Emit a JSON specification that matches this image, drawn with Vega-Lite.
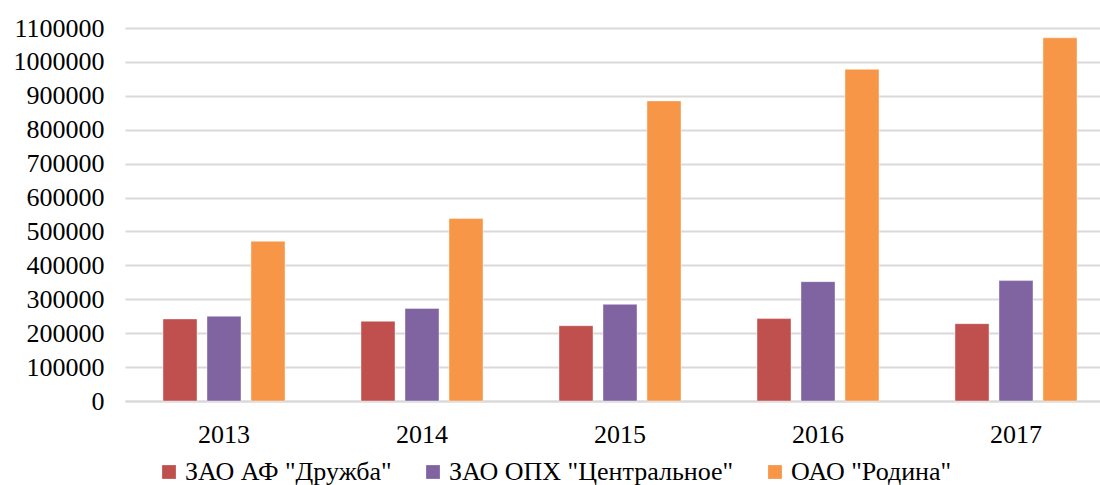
{
  "$schema": "https://vega.github.io/schema/vega-lite/v6.json",
  "autosize": "none",
  "padding": {"left": 125, "top": 28, "right": 0, "bottom": 84},
  "width": 990,
  "height": 373,
  "background": "white",
  "data": {
    "values": [
      {"year": "2013", "company": "ЗАО АФ \"Дружба\"", "value": 242000},
      {"year": "2013", "company": "ЗАО ОПХ \"Центральное\"", "value": 250000},
      {"year": "2013", "company": "ОАО \"Родина\"", "value": 471000},
      {"year": "2014", "company": "ЗАО АФ \"Дружба\"", "value": 235000},
      {"year": "2014", "company": "ЗАО ОПХ \"Центральное\"", "value": 273000},
      {"year": "2014", "company": "ОАО \"Родина\"", "value": 538000},
      {"year": "2015", "company": "ЗАО АФ \"Дружба\"", "value": 222000},
      {"year": "2015", "company": "ЗАО ОПХ \"Центральное\"", "value": 285000},
      {"year": "2015", "company": "ОАО \"Родина\"", "value": 885000},
      {"year": "2016", "company": "ЗАО АФ \"Дружба\"", "value": 243000},
      {"year": "2016", "company": "ЗАО ОПХ \"Центральное\"", "value": 352000},
      {"year": "2016", "company": "ОАО \"Родина\"", "value": 978000},
      {"year": "2017", "company": "ЗАО АФ \"Дружба\"", "value": 228000},
      {"year": "2017", "company": "ЗАО ОПХ \"Центральное\"", "value": 355000},
      {"year": "2017", "company": "ОАО \"Родина\"", "value": 1071000}
    ]
  },
  "config": {
    "font": "Liberation Serif",
    "view": {"stroke": null},
    "axis": {"labelFont": "Liberation Serif"},
    "legend": {"labelFont": "Liberation Serif"}
  },
  "mark": {"type": "bar", "stroke": "white", "strokeOpacity": 0.4, "strokeWidth": 1},
  "encoding": {
    "x": {
      "field": "year",
      "type": "nominal",
      "scale": {"paddingInner": 0, "paddingOuter": 0},
      "axis": {
        "title": null,
        "labelAngle": 0,
        "labelFontSize": 26,
        "labelColor": "#000000",
        "labelPadding": 20,
        "ticks": false,
        "domainColor": "#d9d9d9",
        "domainWidth": 2,
        "grid": false
      }
    },
    "xOffset": {
      "field": "company",
      "type": "nominal",
      "sort": ["ЗАО АФ \"Дружба\"", "ЗАО ОПХ \"Центральное\"", "ОАО \"Родина\""],
      "scale": {"paddingInner": 0.227, "paddingOuter": 0.864}
    },
    "y": {
      "field": "value",
      "type": "quantitative",
      "scale": {"domain": [0, 1100000], "nice": false},
      "axis": {
        "title": null,
        "values": [0, 100000, 200000, 300000, 400000, 500000, 600000, 700000, 800000, 900000, 1000000, 1100000],
        "format": "d",
        "labelFontSize": 26,
        "labelColor": "#000000",
        "labelPadding": 21,
        "ticks": false,
        "domain": false,
        "grid": true,
        "gridColor": "#d9d9d9",
        "gridWidth": 2
      }
    },
    "color": {
      "field": "company",
      "type": "nominal",
      "sort": ["ЗАО АФ \"Дружба\"", "ЗАО ОПХ \"Центральное\"", "ОАО \"Родина\""],
      "scale": {"range": ["#C0504D", "#8064A2", "#F79646"]},
      "legend": {
        "title": null,
        "orient": "none",
        "direction": "horizontal",
        "legendX": 31,
        "legendY": 431,
        "symbolType": "square",
        "symbolSize": 190,
        "symbolStrokeWidth": 0,
        "labelFontSize": 26,
        "labelColor": "#000000",
        "labelOffset": 3,
        "columnPadding": 28,
        "labelLimit": 400
      }
    }
  }
}
